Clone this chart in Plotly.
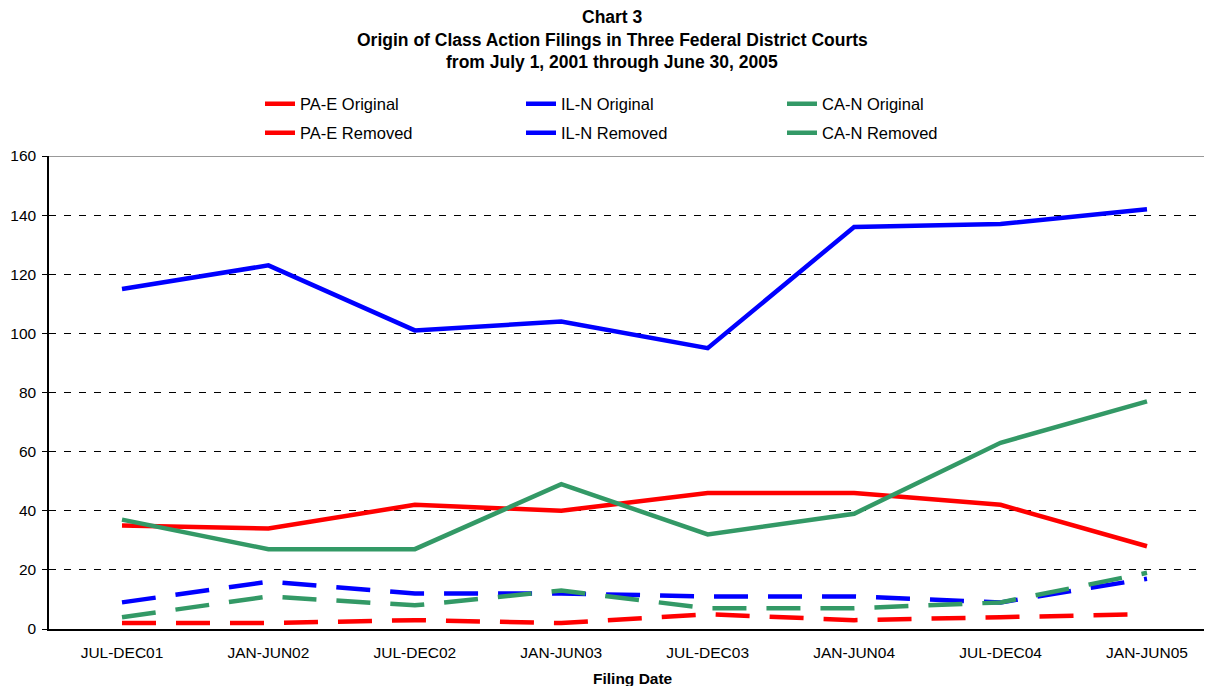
import plotly.graph_objects as go

categories = ["JUL-DEC01", "JAN-JUN02", "JUL-DEC02", "JAN-JUN03",
              "JUL-DEC03", "JAN-JUN04", "JUL-DEC04", "JAN-JUN05"]
pa_original = [35, 34, 42, 40, 46, 46, 42, 28]
il_original = [115, 123, 101, 104, 95, 136, 137, 142]
ca_original = [37, 27, 27, 49, 32, 39, 63, 77]
pa_removed = [2, 2, 3, 2, 5, 3, 4, 5]
il_removed = [9, 16, 12, 12, 11, 11, 9, 17]
ca_removed = [4, 11, 8, 13, 7, 7, 9, 19]
y_ticks = [0, 20, 40, 60, 80, 100, 120, 140, 160]

RED, BLUE, GREEN = "#FF0000", "#0000FF", "#339966"
DASH = "34px,20px"

fig = go.Figure()
series = [
    ("PA-E Original", pa_original, RED, "solid", "legend"),
    ("IL-N Original", il_original, BLUE, "solid", "legend"),
    ("CA-N Original", ca_original, GREEN, "solid", "legend"),
    ("PA-E Removed", pa_removed, RED, DASH, "legend2"),
    ("IL-N Removed", il_removed, BLUE, DASH, "legend2"),
    ("CA-N Removed", ca_removed, GREEN, DASH, "legend2"),
]
for name, vals, col, dash, leg in series:
    fig.add_trace(go.Scatter(x=categories, y=vals, name=name, mode="lines",
                             line=dict(color=col, width=4.5, dash=dash),
                             legend=leg))

# page body has an 8px margin; work in screenshot pixels and convert
OFF = 8
W, H = 1212 - OFF, 686 - OFF
ml, mr, mt, mb = 49 - OFF, 0, 156 - OFF, 57
ph = H - mt - mb
pw = W - ml - mr

def py(ypix):
    return (H - mb - (ypix - OFF)) / ph

def px(xpix):
    return (xpix - OFF - ml) / pw

font = "Liberation Sans, Arial, sans-serif"
legend_common = dict(orientation="h", xanchor="left", yanchor="middle",
                     entrywidth=216, entrywidthmode="pixels",
                     font=dict(family=font, size=16.5, color="black"),
                     bgcolor="rgba(0,0,0,0)")

fig.update_layout(
    width=W, height=H,
    margin=dict(l=ml, r=mr, t=mt, b=mb),
    paper_bgcolor="white", plot_bgcolor="white",
    font=dict(family=font, size=15, color="black"),
    showlegend=True,
    legend=dict(x=px(260), y=py(104), **legend_common),
    legend2=dict(x=px(260), y=py(133), **legend_common),
    xaxis=dict(showline=True, linecolor="black", linewidth=1.5, ticks="",
               showgrid=False, tickfont=dict(size=15.5, family=font),
               ticklabelstandoff=9,
               range=[-0.4985, 7.444], fixedrange=True),
    yaxis=dict(range=[0, 160], tickvals=y_ticks, showline=True,
               linecolor="black", linewidth=1.5, ticks="outside", ticklen=5,
               tickcolor="black", showgrid=True, gridcolor="black",
               griddash="7px,8px", gridwidth=1, zeroline=False,
               ticklabelstandoff=3,
               tickfont=dict(size=15.5, family=font)),
    shapes=[dict(type="line", xref="paper", yref="y", x0=0, x1=1, y0=160, y1=160,
                 line=dict(color="#999999", width=2))],
)

titles = ["Chart 3",
          "Origin of Class Action Filings in Three Federal District Courts",
          "from July 1, 2001 through June 30, 2005"]
for t, yp in zip(titles, [17, 40, 62]):
    fig.add_annotation(text="<b>%s</b>" % t, xref="paper", yref="paper",
                       x=px(612), y=py(yp), showarrow=False,
                       font=dict(family=font, size=17.5, color="black"),
                       xanchor="center", yanchor="middle")
fig.add_annotation(text="<b>Filing Date</b>", xref="paper", yref="paper",
                   x=px(633), y=py(678), showarrow=False,
                   font=dict(family=font, size=15.5, color="black"),
                   xanchor="center", yanchor="middle")

fig.write_html("out.html")
